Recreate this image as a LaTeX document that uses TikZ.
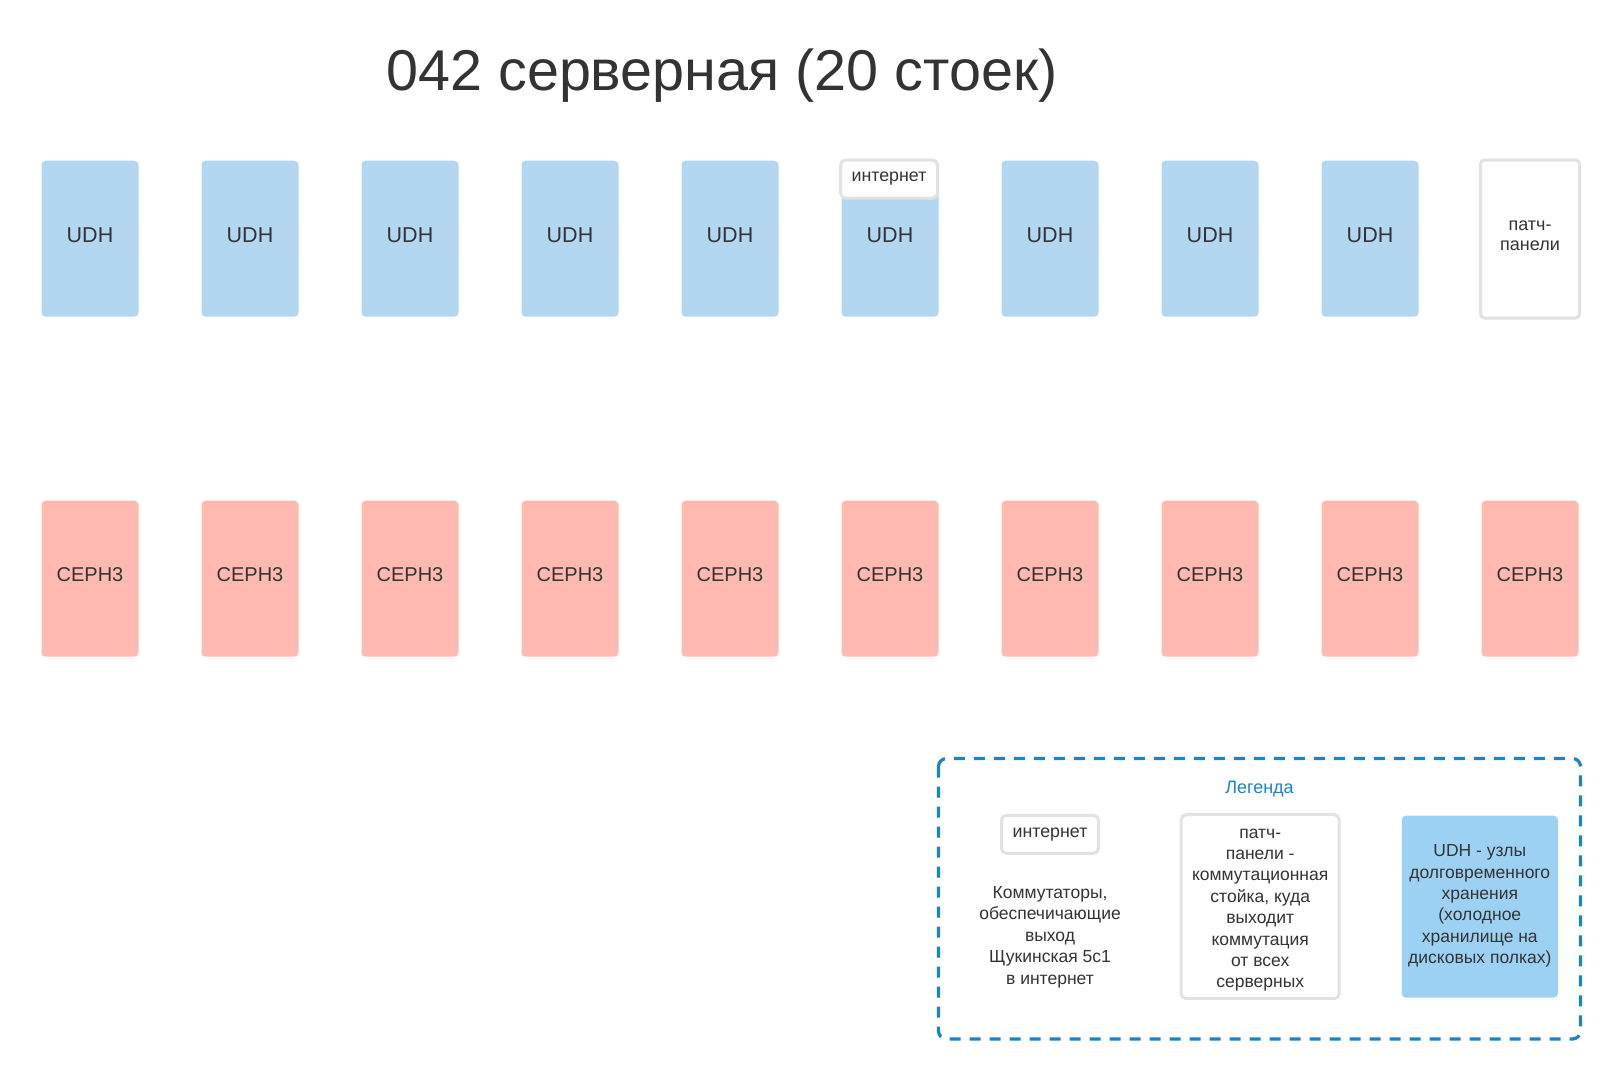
\documentclass[tikz,border=0pt]{standalone}
\usepackage{fontspec}
\setmainfont{Liberation Sans}
\definecolor{udhfill}{HTML}{B3D7F1}
\definecolor{cephfill}{HTML}{FFB9B1}
\definecolor{legudh}{HTML}{9DD1F4}
\definecolor{greyline}{HTML}{E2E2E2}
\definecolor{txt}{HTML}{333333}
\definecolor{legblue}{HTML}{1A84C6}
\tikzset{
  rack/.style={rounded corners=4pt, minimum width=97pt, minimum height=156pt, inner sep=0pt},
  racklabel/.style={text=txt, inner sep=0pt},
  udhbox/.style={rack, fill=udhfill},
  cephbox/.style={rack, fill=cephfill},
  patchbox/.style={rack, draw=greyline, line width=3pt, fill=white, minimum width=99pt, minimum height=158pt},
  netbox/.style={rounded corners=5pt, draw=greyline, line width=3pt, fill=white, minimum width=97pt, minimum height=38pt, inner sep=0pt, text=txt, font=\fontsize{17.8}{20}\selectfont},
  legtext/.style={align=center, text=txt, font=\fontsize{17.5}{21.4}\selectfont, inner sep=0pt},
}
\begin{document}
\begin{tikzpicture}[x=1pt,y=-1pt]
\useasboundingbox (0,0) rectangle (1621,1079);
\node[text=txt, font=\fontsize{57.5}{60}\selectfont, inner sep=0pt] (title) at (722,75.5) {042 серверная (20 стоек)};
\foreach \i in {0,...,8} {
  \node[udhbox] (u\i) at (90+160*\i,238.7) {};
  \node[racklabel, font=\fontsize{21.5}{24}\selectfont] at (90+160*\i,235) {UDH};
}
\node[patchbox] (pp) at (1530,239) {};
\node[racklabel, align=center, font=\fontsize{18}{20.5}\selectfont] (pptxt) at (1530,235.5) {патч-\\панели};
\node[netbox] (net) at (889,179) {интернет};
\foreach \i in {0,...,9} {
  \node[cephbox] (c\i) at (90+160*\i,578.7) {};
  \node[racklabel, font=\fontsize{20}{24}\selectfont] at (90+160*\i,574.5) {СЕРН3};
}
% legend
\draw[legblue, line width=3.2pt, dash pattern=on 11pt off 9pt, rounded corners=8pt] (938.5,758.5) rectangle (1580.5,1039);
\node[text=legblue, font=\fontsize{18}{20}\selectfont, inner sep=0pt] (leg) at (1259.5,789.5) {Легенда};
\node[netbox] (lnet) at (1050,834.3) {интернет};
\node[legtext] (lnettxt) at (1050,937) {Коммутаторы,\\обеспечичающие\\выход\\Щукинская 5с1\\в интернет};
\node[rounded corners=5pt, draw=greyline, line width=3pt, fill=white, minimum width=158pt, minimum height=184pt, inner sep=0pt] (lpp) at (1260.2,906.7) {};
\node[legtext] (lpptxt) at (1260.2,910) {патч-\\панели -\\коммутационная\\стойка, куда\\выходит\\коммутация\\от всех\\серверных};
\node[rounded corners=4pt, fill=legudh, minimum width=156pt, minimum height=182pt, inner sep=0pt] (ludh) at (1479.8,906.6) {};
\node[legtext] (ludhtxt) at (1479.8,906) {UDH - узлы\\долговременного\\хранения\\(холодное\\хранилище на\\дисковых полках)};
\end{tikzpicture}
\end{document}
